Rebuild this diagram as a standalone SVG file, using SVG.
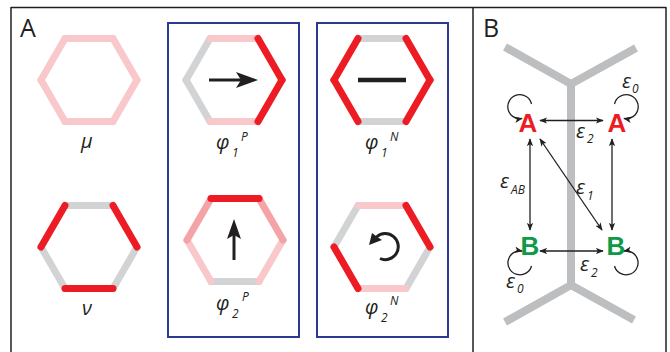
<svg xmlns="http://www.w3.org/2000/svg" xmlns:xlink="http://www.w3.org/1999/xlink" width="670" height="352" viewBox="0 0 670 352">
<style>
.frame{stroke:#231f20;stroke-width:1.5;fill:none}
.box{stroke:#2b3990;stroke-width:2;fill:none}
use{stroke-width:7;stroke-linecap:round;fill:none}
.g{stroke:#d1d3d4}.p{stroke:#f8c8cb}.m{stroke:#f4a3a6}.r{stroke:#ed1c24}
.lab{font-family:"Open Sans","Liberation Sans",sans-serif;font-style:italic;font-size:20px;fill:#231f20}
.sub{font-family:"Open Sans","Liberation Sans",sans-serif;font-style:italic;font-size:12px;fill:#231f20}
.pan{font-family:"Open Sans","Liberation Sans",sans-serif;font-size:25px;fill:#231f20}
.st{font-family:"Liberation Sans","Open Sans",sans-serif;font-weight:bold;font-size:26px;text-anchor:middle}
.sA{fill:#ed1c24}.sB{fill:#0f9a48}
.track{stroke:#bcbec0;stroke-width:8;fill:none;stroke-linecap:butt}
.con{stroke:#231f20;stroke-width:1.3;fill:none}
</style>
<defs>
<line id="eT" x1="-24" y1="-41.5" x2="24" y2="-41.5"/>
<line id="eUR" x1="24" y1="-41.5" x2="48" y2="0"/>
<line id="eLR" x1="48" y1="0" x2="24" y2="41.5"/>
<line id="eB" x1="24" y1="41.5" x2="-24" y2="41.5"/>
<line id="eLL" x1="-24" y1="41.5" x2="-48" y2="0"/>
<line id="eUL" x1="-48" y1="0" x2="-24" y2="-41.5"/>
<marker id="ah" viewBox="0 0 10 8" refX="9" refY="4" markerWidth="8" markerHeight="6.4" markerUnits="userSpaceOnUse" orient="auto-start-reverse">
<path d="M0,0 L10,4 L0,8 L2.5,4 z" fill="#231f20"/>
</marker>
</defs>

<!-- frame -->
<g id="frame">
<line class="frame" x1="11" y1="7.5" x2="666" y2="7.5"/>
<line class="frame" x1="11" y1="7" x2="11" y2="352"/>
<line class="frame" x1="473" y1="7" x2="473" y2="352"/>
<line class="frame" x1="666" y1="7" x2="666" y2="352"/>
<rect class="box" x="168" y="23" width="131" height="314"/>
<rect class="box" x="317" y="23" width="131" height="314"/>
<text class="pan" x="20" y="37">A</text>
<text class="pan" x="483" y="37">B</text>
</g>

<!-- panel A -->
<g id="mu">
<g transform="translate(89,80)">
<use xlink:href="#eT" class="p"/><use xlink:href="#eUR" class="p"/><use xlink:href="#eLR" class="p"/>
<use xlink:href="#eB" class="p"/><use xlink:href="#eLL" class="p"/><use xlink:href="#eUL" class="p"/>
</g>
<text class="lab" x="81" y="148">μ</text>
</g>

<g id="nu">
<g transform="translate(89,247)">
<use xlink:href="#eT" class="g"/><use xlink:href="#eLR" class="g"/><use xlink:href="#eLL" class="g"/>
<use xlink:href="#eUR" class="r"/><use xlink:href="#eB" class="r"/><use xlink:href="#eUL" class="r"/>
</g>
<text class="lab" x="82" y="315">ν</text>
</g>

<g id="phi1P">
<g transform="translate(234,80)">
<use xlink:href="#eLL" class="g"/><use xlink:href="#eUL" class="g"/>
<use xlink:href="#eT" class="p"/><use xlink:href="#eB" class="p"/>
<use xlink:href="#eUR" class="r"/><use xlink:href="#eLR" class="r"/>
</g>
<line x1="209" y1="80" x2="242" y2="80" stroke="#231f20" stroke-width="3"/>
<polygon points="258,80 236,72 241,80 236,88" fill="#231f20"/>
<text class="lab" x="216" y="149">φ</text>
<text class="sub" x="232" y="157">1</text>
<text class="sub" x="241" y="141">P</text>
</g>

<g id="phi1N">
<g transform="translate(382,80)">
<use xlink:href="#eT" class="g"/><use xlink:href="#eB" class="g"/>
<use xlink:href="#eUR" class="r"/><use xlink:href="#eLR" class="r"/><use xlink:href="#eLL" class="r"/><use xlink:href="#eUL" class="r"/>
</g>
<line x1="358" y1="80" x2="406" y2="80" stroke="#231f20" stroke-width="4.5"/>
<text class="lab" x="365" y="149">φ</text>
<text class="sub" x="381" y="157">1</text>
<text class="sub" x="390" y="141">N</text>
</g>

<g id="phi2P">
<g transform="translate(235,240)">
<use xlink:href="#eB" class="g"/>
<use xlink:href="#eLR" class="p"/><use xlink:href="#eLL" class="p"/>
<use xlink:href="#eUR" class="m"/><use xlink:href="#eUL" class="m"/>
<use xlink:href="#eT" class="r"/>
</g>
<line x1="234" y1="260" x2="234" y2="232" stroke="#231f20" stroke-width="3"/>
<polygon points="234,219 241,239 234,235 227,239" fill="#231f20"/>
<text class="lab" x="216" y="310">φ</text>
<text class="sub" x="232" y="318">2</text>
<text class="sub" x="242" y="301">P</text>
</g>

<g id="phi2N">
<g transform="translate(382,247)">
<use xlink:href="#eLR" class="g"/><use xlink:href="#eUL" class="g"/>
<use xlink:href="#eT" class="p"/><use xlink:href="#eB" class="p"/>
<use xlink:href="#eUR" class="r"/><use xlink:href="#eLL" class="r"/>
</g>
<path d="M376.5,237 A13,13 0 1 1 380,258.5" stroke="#231f20" stroke-width="3" fill="none"/>
<polygon points="369,245 372,233 378,237.5 382,240" fill="#231f20"/>
<text class="lab" x="365" y="314">φ</text>
<text class="sub" x="381" y="322">2</text>
<text class="sub" x="390" y="305">N</text>
</g>

<!-- panel B track -->
<g id="track">
<polyline class="track" points="505,47 571,84 636,48"/>
<line class="track" x1="571" y1="82" x2="571" y2="287"/>
<polyline class="track" points="505,322 571,285 634,320"/>
</g>

<g id="A1"><text class="st sA" x="528" y="132">A</text></g>
<g id="A2"><text class="st sA" x="617" y="132">A</text></g>
<g id="B1"><text class="st sB" x="530" y="255">B</text></g>
<g id="B2"><text class="st sB" x="616" y="255">B</text></g>

<g id="connectors">
<line class="con" x1="540" y1="120.5" x2="603" y2="120.5" marker-start="url(#ah)" marker-end="url(#ah)"/>
<line class="con" x1="540" y1="251" x2="603" y2="251" marker-start="url(#ah)" marker-end="url(#ah)"/>
<line class="con" x1="530" y1="139" x2="530" y2="230" marker-start="url(#ah)" marker-end="url(#ah)"/>
<line class="con" x1="612" y1="139" x2="612" y2="230" marker-start="url(#ah)" marker-end="url(#ah)"/>
<line class="con" x1="540" y1="139" x2="602" y2="230" marker-start="url(#ah)" marker-end="url(#ah)"/>
<path class="con" d="M531.5,104 A12,12 0 1 0 522,118.5" marker-end="url(#ah)"/>
<path class="con" d="M614.5,104 A12,12 0 1 1 624,118.5" marker-end="url(#ah)"/>
<path class="con" d="M531.5,266 A12,12 0 1 1 522,251" marker-end="url(#ah)"/>
<path class="con" d="M614.5,266 A12,12 0 1 0 624,251" marker-end="url(#ah)"/>
</g>

<g id="labelsB">
<text class="lab" x="622" y="88">ε</text><text class="sub" x="632" y="93">0</text>
<text class="lab" x="576" y="138">ε</text><text class="sub" x="587" y="143">2</text>
<text class="lab" x="500" y="188">ε</text><text class="sub" x="511" y="194">AB</text>
<text class="lab" x="576" y="194">ε</text><text class="sub" x="587" y="200">1</text>
<text class="lab" x="580" y="271">ε</text><text class="sub" x="591" y="277">2</text>
<text class="lab" x="506" y="288">ε</text><text class="sub" x="517" y="293">0</text>
</g>
</svg>
